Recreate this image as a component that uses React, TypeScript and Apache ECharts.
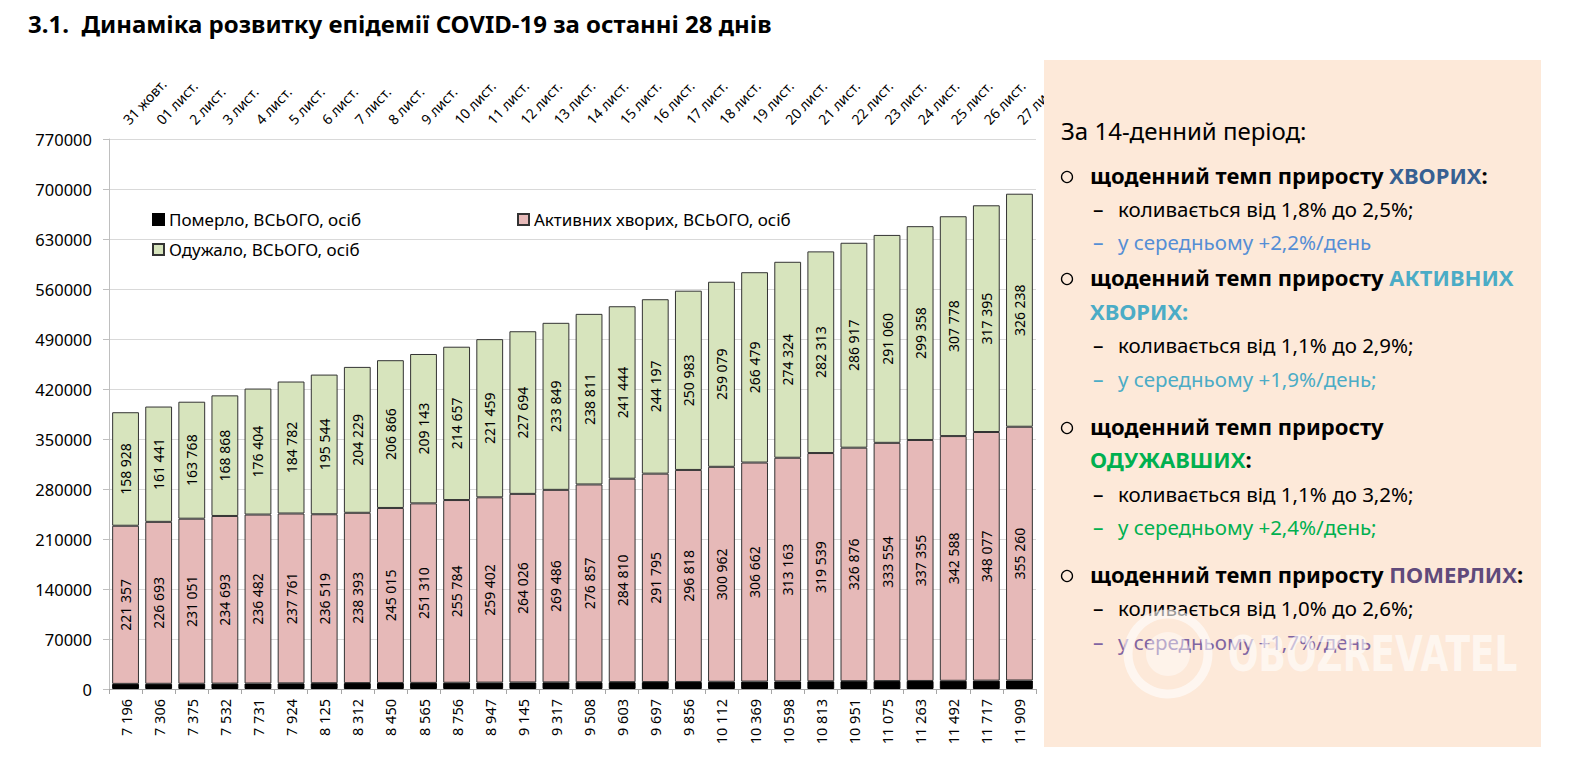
import React, { useEffect, useRef } from "react";
import * as echarts from "echarts";

const dates = [
  "31 жовт.", "01 лист.", "2 лист.", "3 лист.", "4 лист.", "5 лист.", "6 лист.",
  "7 лист.", "8 лист.", "9 лист.", "10 лист.", "11 лист.", "12 лист.", "13 лист.",
  "14 лист.", "15 лист.", "16 лист.", "17 лист.", "18 лист.", "19 лист.", "20 лист.",
  "21 лист.", "22 лист.", "23 лист.", "24 лист.", "25 лист.", "26 лист.", "27 лист.",
];

const deaths = [
  7196, 7306, 7375, 7532, 7731, 7924, 8125, 8312, 8450, 8565, 8756, 8947, 9145, 9317,
  9508, 9603, 9697, 9856, 10112, 10369, 10598, 10813, 10951, 11075, 11263, 11492, 11717, 11909,
];

const active = [
  221357, 226693, 231051, 234693, 236482, 237761, 236519, 238393, 245015, 251310, 255784,
  259402, 264026, 269486, 276857, 284810, 291795, 296818, 300962, 306662, 313163, 319539,
  326876, 333554, 337355, 342588, 348077, 355260,
];

const recovered = [
  158928, 161441, 163768, 168868, 176404, 184782, 195544, 204229, 206866, 209143, 214657,
  221459, 227694, 233849, 238811, 241444, 244197, 250983, 259079, 266479, 274324, 282313,
  286917, 291060, 299358, 307778, 317395, 326238,
];

const seriesNames = [
  "Померло, ВСЬОГО, осіб",
  "Активних хворих, ВСЬОГО, осіб",
  "Одужало, ВСЬОГО, осіб",
];

const yMin = 0;
const yMax = 770000;
const yInterval = 70000;

const title = "3.1.  Динаміка розвитку епідемії COVID-19 за останні 28 днів";

const FONT = "'Noto Sans', 'Open Sans', sans-serif";

const fmt = (v: number) => String(v).replace(/\B(?=(\d{3})+(?!\d))/g, " ");

export default function App() {
  const ref = useRef<HTMLDivElement>(null);

  useEffect(() => {
    if (!ref.current) return;
    const chart = echarts.init(ref.current, undefined, { renderer: "svg" });

    const legendBase = {
      icon: "rect",
      itemWidth: 11,
      itemHeight: 11,
      itemGap: 0,
      padding: 0,
      selectedMode: false,
      textStyle: { fontSize: 17, color: "#000", fontFamily: FONT },
    };

    const barLabel = {
      show: true,
      position: "inside",
      rotate: 90,
      fontSize: 14,
      color: "#000",
      fontFamily: FONT,
      formatter: (p: any) => fmt(p.value),
    };

    const txt = (x: number, y: number, text: string, rich: any, extra: any = {}) => ({
      type: "text",
      x,
      y,
      z: 101,
      style: {
        text,
        rich,
        verticalAlign: "middle",
        align: "left",
        fontFamily: FONT,
        fontSize: 21,
        fill: "#000",
        ...extra,
      },
    });

    const NS = 20.5;
    const BS = 22;
    const richAll = {
      h: { fontSize: 24, fontFamily: FONT, fill: "#000" },
      n: { fontSize: NS, fontFamily: FONT, fill: "#000" },
      b: { fontSize: BS, fontFamily: FONT, fontWeight: "bold", fill: "#000" },
      bl: { fontSize: BS, fontFamily: FONT, fontWeight: "bold", fill: "#376092" },
      lb: { fontSize: BS, fontFamily: FONT, fontWeight: "bold", fill: "#4BACC6" },
      gr: { fontSize: BS, fontFamily: FONT, fontWeight: "bold", fill: "#00B050" },
      pu: { fontSize: BS, fontFamily: FONT, fontWeight: "bold", fill: "#604A7B" },
      blN: { fontSize: NS, fontFamily: FONT, fill: "#558ED5" },
      lbN: { fontSize: NS, fontFamily: FONT, fill: "#4BACC6" },
      grN: { fontSize: NS, fontFamily: FONT, fill: "#00B050" },
      puN: { fontSize: NS, fontFamily: FONT, fill: "#8064A2" },
    };

    const bullet = (cy: number) => ({
      type: "circle",
      z: 101,
      shape: { cx: 1067, cy, r: 5.5 },
      style: { fill: "none", stroke: "#000", lineWidth: 1.3 },
    });

    const dashX = 1093;
    const textX = 1118;
    const dash = (y: number, color: string) => txt(dashX, y, "–", undefined, { fill: color });

    const graphic: any[] = [
      {
        type: "text",
        x: 28,
        y: 23,
        z: 101,
        style: {
          text: title,
          fontFamily: FONT,
          fontSize: 24,
          fontWeight: "bold",
          fill: "#000",
          verticalAlign: "middle",
        },
      },
      {
        type: "rect",
        z: 100,
        shape: { x: 1044, y: 60, width: 497, height: 687 },
        style: { fill: "#FDE9D9" },
      },
      txt(1061, 130, "{h|За 14-денний період:}", richAll),
      bullet(177),
      txt(1090, 175, "{b|щоденний темп приросту }{bl|ХВОРИХ}{b|:}", richAll),
      dash(209, "#000"),
      txt(textX, 209, "{n|коливається від 1,8% до 2,5%;}", richAll),
      dash(242, "#558ED5"),
      txt(textX, 242, "{blN|у середньому +2,2%/день}", richAll),
      bullet(279),
      txt(1090, 277, "{b|щоденний темп приросту }{lb|АКТИВНИХ}", richAll),
      txt(1090, 311, "{lb|ХВОРИХ:}", richAll),
      dash(345, "#000"),
      txt(textX, 345, "{n|коливається від 1,1% до 2,9%;}", richAll),
      dash(379, "#4BACC6"),
      txt(textX, 379, "{lbN|у середньому +1,9%/день;}", richAll),
      bullet(428),
      txt(1090, 426, "{b|щоденний темп приросту}", richAll),
      txt(1090, 459, "{gr|ОДУЖАВШИХ}{b|:}", richAll),
      dash(494, "#000"),
      txt(textX, 494, "{n|коливається від 1,1% до 3,2%;}", richAll),
      dash(527, "#00B050"),
      txt(textX, 527, "{grN|у середньому +2,4%/день;}", richAll),
      bullet(576),
      txt(1090, 574, "{b|щоденний темп приросту }{pu|ПОМЕРЛИХ}{b|:}", richAll),
      dash(608, "#000"),
      txt(textX, 608, "{n|коливається від 1,0% до 2,6%;}", richAll),
      dash(642, "#8064A2"),
      txt(textX, 642, "{puN|у середньому +1,7%/день}", richAll),
      // watermark
      {
        type: "circle",
        z: 102,
        shape: { cx: 1168, cy: 654, r: 40 },
        style: { fill: "none", stroke: "rgba(255,255,255,0.6)", lineWidth: 9 },
      },
      {
        type: "circle",
        z: 102,
        shape: { cx: 1168, cy: 654, r: 22 },
        style: { fill: "rgba(255,255,255,0.45)" },
      },
      {
        type: "text",
        x: 1228,
        y: 654,
        z: 102,
        scaleX: 0.72,
        style: {
          text: "OBOZREVATEL",
          fontFamily: "'DejaVu Sans', sans-serif",
          fontSize: 50,
          fontWeight: "bold",
          fill: "rgba(255,255,255,0.6)",
          verticalAlign: "middle",
        },
      },
    ];

    const option: any = {
      animation: false,
      backgroundColor: "#ffffff",
      textStyle: { fontFamily: FONT },
      grid: { left: 109, top: 139, width: 927, height: 550, containLabel: false },
      legend: [
        { ...legendBase, data: [seriesNames[0]], left: 152, top: 211 },
        { ...legendBase, data: [seriesNames[1]], left: 517, top: 211 },
        { ...legendBase, data: [seriesNames[2]], left: 152, top: 241 },
      ],
      xAxis: [
        {
          type: "category",
          position: "bottom",
          data: deaths.map(fmt),
          axisLine: { lineStyle: { color: "#a6a6a6" } },
          axisTick: { show: true, length: 5, lineStyle: { color: "#a6a6a6" } },
          axisLabel: { rotate: 90, fontSize: 14.5, color: "#000", margin: 10, interval: 0, fontFamily: FONT },
        },
        {
          type: "category",
          position: "top",
          data: dates,
          axisLine: { show: false },
          axisTick: { show: false },
          axisLabel: { rotate: -47, fontSize: 14, color: "#000", margin: 17, interval: 0, fontFamily: FONT },
        },
      ],
      yAxis: {
        type: "value",
        min: yMin,
        max: yMax,
        interval: yInterval,
        axisLine: { show: true, lineStyle: { color: "#bfbfbf" } },
        axisTick: { show: true, length: 6, lineStyle: { color: "#bfbfbf" } },
        splitLine: { lineStyle: { color: "#d9d9d9" } },
        axisLabel: {
          fontSize: 16.5,
          color: "#000",
          margin: 17,
          fontFamily: FONT,
          formatter: (v: number) => String(v),
        },
      },
      series: [
        {
          name: seriesNames[0],
          type: "bar",
          stack: "total",
          data: deaths,
          barCategoryGap: "19%",
          itemStyle: { color: "#000000", borderColor: "#000000", borderWidth: 1 },
        },
        {
          name: seriesNames[1],
          type: "bar",
          stack: "total",
          data: active,
          itemStyle: { color: "#E6B9B8", borderColor: "#333333", borderWidth: 1 },
          label: barLabel,
        },
        {
          name: seriesNames[2],
          type: "bar",
          stack: "total",
          data: recovered,
          itemStyle: { color: "#D7E4BD", borderColor: "#333333", borderWidth: 1 },
          label: barLabel,
        },
      ],
      graphic,
    };

    chart.setOption(option);
    return () => chart.dispose();
  }, []);

  return (
    <div
      ref={ref}
      style={{ position: "absolute", left: 0, top: 0, width: 1590, height: 764, background: "#fff" }}
    />
  );
}
